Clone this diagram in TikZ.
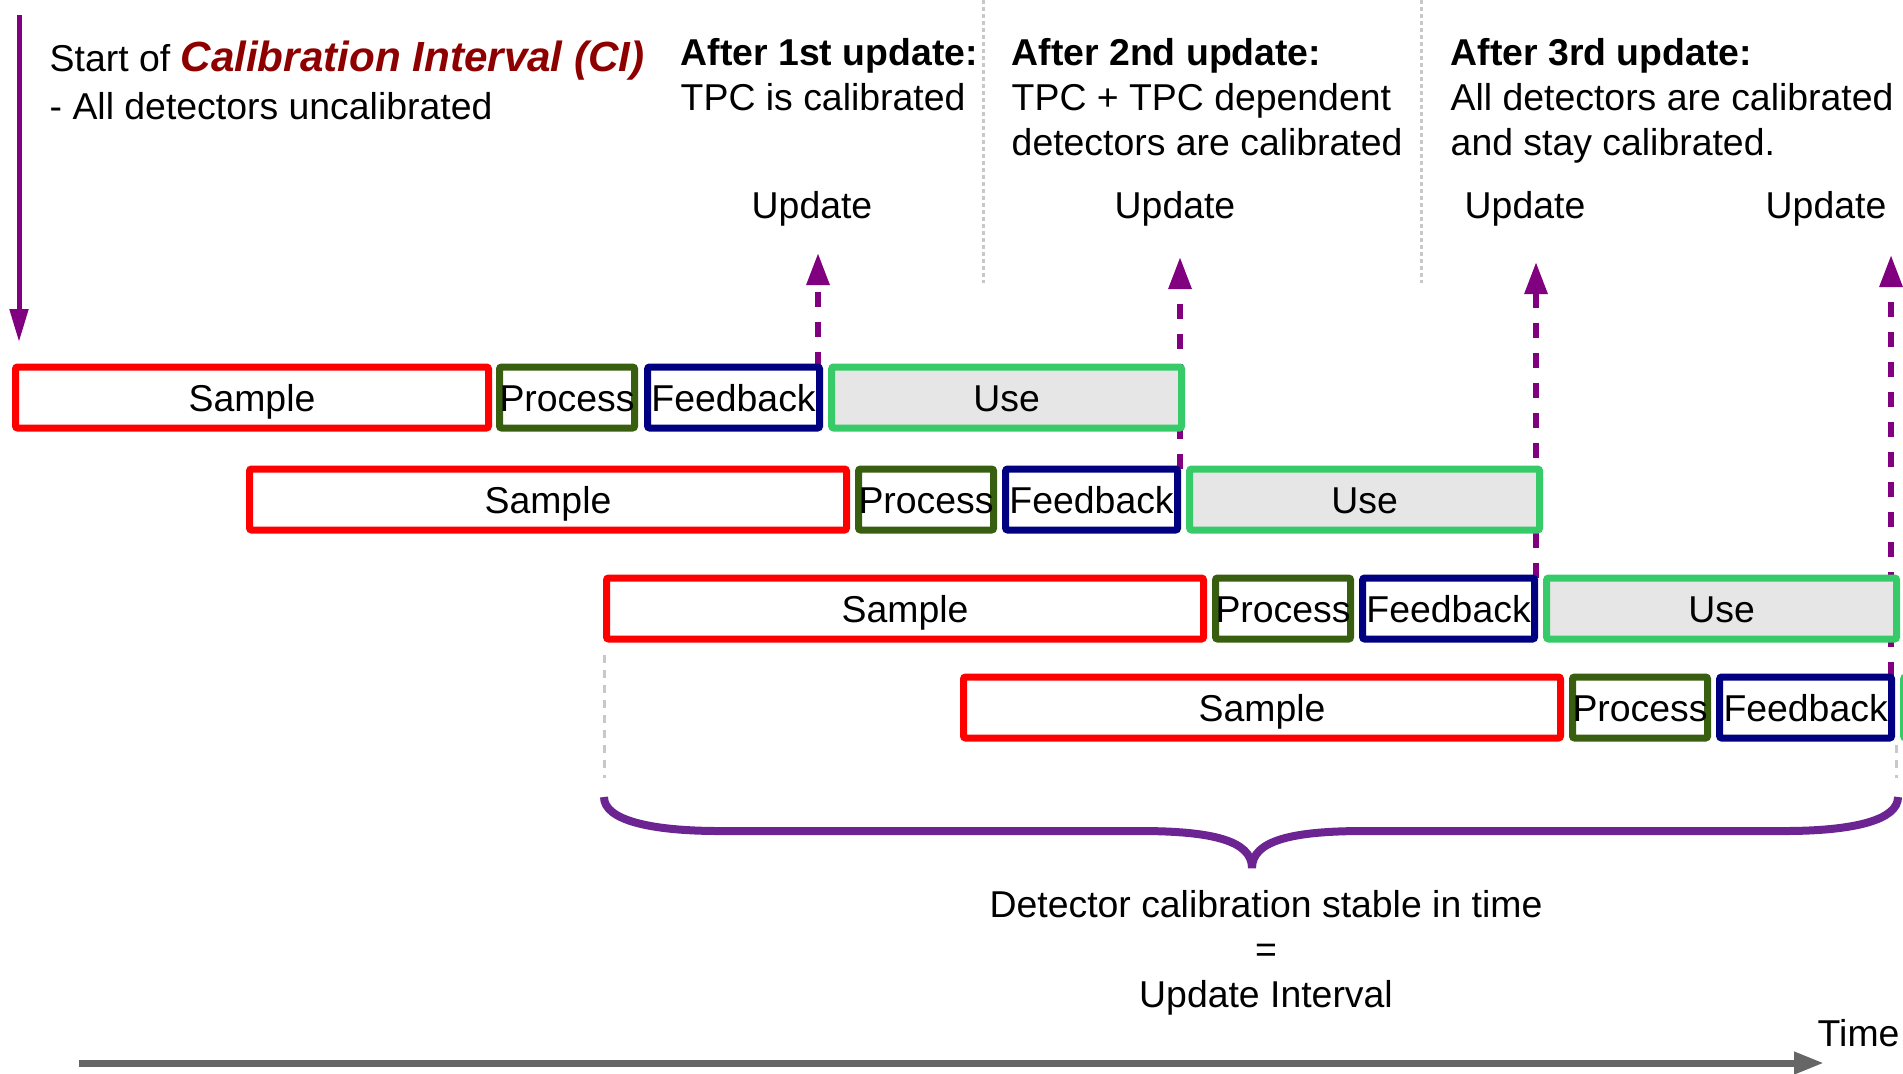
\documentclass[tikz,border=0pt]{standalone}
\usepackage{fontspec}
\setmainfont{Liberation Sans}
\usetikzlibrary{positioning,arrows.meta,backgrounds}

\definecolor{sred}{RGB}{255,0,0}
\definecolor{pgreen}{RGB}{56,94,15}
\definecolor{fblue}{RGB}{0,0,128}
\definecolor{ugreen}{RGB}{54,203,104}
\definecolor{ugray}{RGB}{230,230,230}
\definecolor{cipurple}{RGB}{128,0,128}
\definecolor{cired}{RGB}{142,0,0}
\definecolor{bracecol}{RGB}{107,36,145}
\definecolor{axisgray}{RGB}{102,102,102}
\definecolor{guidegray}{RGB}{200,200,200}

\begin{document}
\begin{tikzpicture}[
    font=\fontsize{10.64}{12.8}\selectfont,
    box/.style={draw, line width=0.07cm, minimum height=0.61cm, inner sep=0pt, outer sep=0pt,
        text height=0.27cm, text depth=0cm, rounded corners=0.6pt},
    sampbox/.style={box, draw=sred},
    procbox/.style={box, draw=pgreen, minimum width=1.30cm},
    feedbox/.style={box, draw=fblue, minimum width=1.72cm},
    usebox/.style={box, draw=ugreen, fill=ugray, minimum width=3.50cm},
    updarrow/.style={draw=cipurple, line width=0.06cm, dash pattern=on 0.15cm off 0.15cm, -{Triangle[width=0.22cm,length=0.32cm]}},
    guide/.style={guidegray, line width=0.03cm, dash pattern=on 0.04cm off 0.03cm}
  ]
    \clip (0,0) rectangle (19.03,-10.73);

    % start of the calibration interval
    \coordinate (ci0) at (0.19,-0.15);
    \coordinate (ci1) at (0.19,-3.42);
    \draw[cipurple, line width=0.05cm, -{Triangle[width=0.18cm,length=0.33cm]}] (ci0) -- (ci1);
    \node[anchor=base west, align=left, inner sep=0pt] (cistart) at (0.49,-1.19)
        {Start of {\color{cired}\fontsize{12}{12.8}\selectfont\bfseries\itshape Calibration Interval (CI)}\\[0.3mm]- All detectors uncalibrated};

    % what happens after each update
    \node[anchor=base west, align=left, inner sep=0pt] (after1) at (6.80,-1.10) {\textbf{After 1st update:}\\TPC is calibrated};
    \node[anchor=base west, align=left, inner sep=0pt] (after2) at (10.11,-1.55) {\textbf{After 2nd update:}\\TPC + TPC dependent\\detectors are calibrated};
    \node[anchor=base west, align=left, inner sep=0pt] (after3) at (14.50,-1.55) {\textbf{After 3rd update:}\\All detectors are calibrated\\and stay calibrated.};
    \coordinate (sep1a) at (9.83,0);
    \coordinate (sep1b) at (9.83,-2.83);
    \coordinate (sep2a) at (14.21,0);
    \coordinate (sep2b) at (14.21,-2.83);
    \draw[guide] (sep1a) -- (sep1b);
    \draw[guide] (sep2a) -- (sep2b);

    % update labels and arrow tips
    \node[anchor=base] (lab1) at (8.12,-2.18) {Update};
    \node[anchor=base] (lab2) at (11.75,-2.18) {Update};
    \node[anchor=base] (lab3) at (15.25,-2.18) {Update};
    \node[anchor=base] (lab4) at (18.26,-2.18) {Update};
    \coordinate (tip1) at (8.18,-2.53);
    \coordinate (tip2) at (11.80,-2.57);
    \coordinate (tip3) at (15.36,-2.62);
    \coordinate (tip4) at (18.91,-2.55);

    % cycles
    \node[sampbox, minimum width=4.73cm] (s1) at (2.52,-3.975) {Sample};
    \node[procbox, right=0.11cm of s1] (p1) {Process};
    \node[feedbox, right=0.13cm of p1] (f1) {Feedback};
    \node[usebox, right=0.12cm of f1] (u1) {Use};

    \node[sampbox, minimum width=5.97cm] (s2) at (5.48,-4.995) {Sample};
    \node[procbox, right=0.12cm of s2] (p2) {Process};
    \node[feedbox, right=0.12cm of p2] (f2) {Feedback};
    \node[usebox, right=0.12cm of f2] (u2) {Use};

    \node[sampbox, minimum width=5.97cm] (s3) at (9.05,-6.085) {Sample};
    \node[procbox, right=0.12cm of s3] (p3) {Process};
    \node[feedbox, right=0.12cm of p3] (f3) {Feedback};
    \node[usebox, right=0.12cm of f3] (u3) {Use};

    \node[sampbox, minimum width=5.97cm] (s4) at (12.62,-7.075) {Sample};
    \node[procbox, right=0.12cm of s4] (p4) {Process};
    \node[feedbox, right=0.12cm of p4] (f4) {Feedback};
    \node[usebox, right=0.12cm of f4] (u4) {Use};

    \begin{scope}[on background layer]
        \draw[updarrow] (tip1 |- u1.north) -- (tip1);
        \draw[updarrow] (tip2 |- u2.north) -- (tip2);
        \draw[updarrow] (tip3 |- u3.north) -- (tip3);
        \draw[updarrow] (tip4 |- u4.north) -- (tip4);
    \end{scope}

    % update interval
    \coordinate (g1) at (6.04,-6.55);
    \coordinate (g2) at (6.04,-7.78);
    \coordinate (g3) at (18.96,-7.45);
    \coordinate (g4) at (18.96,-7.78);
    \draw[guide, dash pattern=on 0.08cm off 0.07cm] (g1) -- (g2);
    \draw[guide, dash pattern=on 0.08cm off 0.07cm] (g3) -- (g4);
    \draw[bracecol, line width=0.08cm] (6.04,-7.97) .. controls (6.04,-8.2) and (6.5,-8.31) .. (7.2,-8.31)
        -- (11.4,-8.31) .. controls (12.1,-8.31) and (12.52,-8.4) .. (12.52,-8.68)
        .. controls (12.52,-8.4) and (12.94,-8.31) .. (13.64,-8.31)
        -- (17.84,-8.31) .. controls (18.54,-8.31) and (18.98,-8.2) .. (18.98,-7.97);
    \node[anchor=base, align=center] (stable) at (12.66,-10.07) {Detector calibration stable in time\\=\\Update Interval};

    % time axis
    \coordinate (t0) at (0.79,-10.63);
    \coordinate (t1) at (18.24,-10.63);
    \draw[axisgray, line width=0.07cm, -{Triangle[width=0.21cm,length=0.3cm]}] (t0) -- (t1);
    \node[anchor=base west, inner sep=0pt] (timelbl) at (18.17,-10.46) {Time};
\end{tikzpicture}
\end{document}
